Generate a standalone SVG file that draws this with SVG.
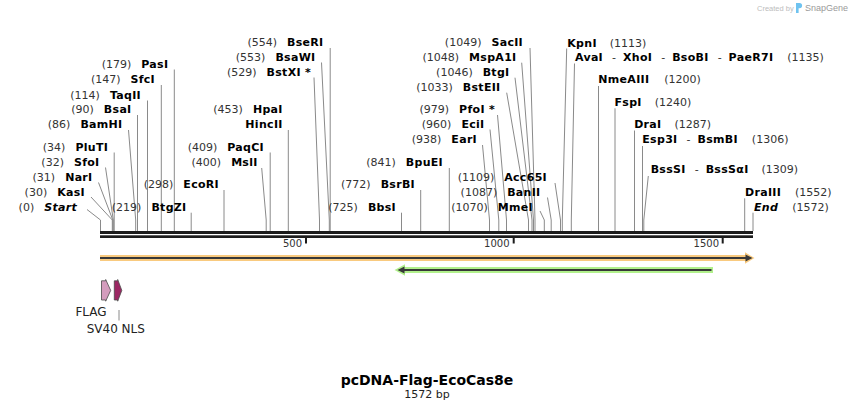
<svg xmlns="http://www.w3.org/2000/svg" width="854" height="410" viewBox="0 0 854 410">
<style>
.n{font-family:"DejaVu Sans",Verdana,sans-serif;font-size:11px;fill:#333}
.b{font-weight:bold;fill:#000;letter-spacing:.3px}
.bi{font-weight:bold;font-style:italic;fill:#000;letter-spacing:.3px}
.e{text-anchor:end}
.site{stroke:#8a8a8a;stroke-width:1;fill:none}
.tk{font-family:"DejaVu Sans",Verdana,sans-serif;font-size:10px;fill:#333;text-anchor:end}
.fl{font-family:"DejaVu Sans",Verdana,sans-serif;font-size:12px;fill:#222;text-anchor:middle}
.dark{fill:#383838}
</style>
<rect width="854" height="410" fill="#fff"/>

<g id="logo">
<text x="757" y="11" font-family="'Liberation Sans',Arial,sans-serif" font-size="7.5" fill="#bdbdbd">Created by</text>
<path d="M796,3 H799.5 A2.6,2.6 0 0 1 799.5,8.2 H798.6 V13 H796 Z" fill="#6fc3f0"/>
<text x="805" y="11" font-family="'Liberation Sans',Arial,sans-serif" font-size="9" fill="#9a9a9a">SnapGene</text>
</g>

<g id="connectors">
<polyline class="site" points="87,209.5 100.5,220 100.5,231"/>
<polyline class="site" points="91,197 112.3,220 112.3,231"/>
<polyline class="site" points="98.5,182.5 112.8,220 112.8,231"/>
<polyline class="site" points="105.5,167.5 113.3,220 113.3,231"/>
<line class="site" x1="114.2" y1="152.5" x2="114.2" y2="231"/>
<polyline class="site" points="128.5,130 135.7,220 135.7,231"/>
<line class="site" x1="137.5" y1="115" x2="137.5" y2="231"/>
<line class="site" x1="147.5" y1="100.5" x2="147.5" y2="231"/>
<line class="site" x1="161.3" y1="85" x2="161.3" y2="231"/>
<line class="site" x1="174.3" y1="69.5" x2="174.3" y2="231"/>
<line class="site" x1="191.2" y1="212.7" x2="191.2" y2="231"/>
<line class="site" x1="224" y1="190" x2="224" y2="231"/>
<polyline class="site" points="261.7,168 266.2,220 266.2,231"/>
<line class="site" x1="270.2" y1="152.5" x2="270.2" y2="231"/>
<line class="site" x1="288.3" y1="130" x2="288.3" y2="231"/>
<polyline class="site" points="314,77.5 319.5,220 319.5,231"/>
<polyline class="site" points="321.5,62.5 329.3,220 329.3,231"/>
<line class="site" x1="330.2" y1="48" x2="330.2" y2="231"/>
<line class="site" x1="401.5" y1="212.7" x2="401.5" y2="231"/>
<line class="site" x1="420.7" y1="190" x2="420.7" y2="231"/>
<line class="site" x1="449.3" y1="168" x2="449.3" y2="231"/>
<polyline class="site" points="482.5,145 489.5,220 489.5,231"/>
<polyline class="site" points="490,129.5 498.8,220 498.8,231"/>
<polyline class="site" points="497.5,115 506.5,220 506.5,231"/>
<polyline class="site" points="506.7,92.7 528.5,220 528.5,231"/>
<polyline class="site" points="515,77.7 532,220 532,231"/>
<polyline class="site" points="521.7,62.7 533.5,220 533.5,231"/>
<polyline class="site" points="530,48 535,220 535,231"/>
<polyline class="site" points="540,211 544.3,220 544.3,231"/>
<polyline class="site" points="547.5,197.5 551.2,220 551.2,231"/>
<polyline class="site" points="555,183 560.5,220 560.5,231"/>
<polyline class="site" points="566.7,48.5 562.3,220 562.3,231"/>
<polyline class="site" points="574.5,63.5 571.3,220 571.3,231"/>
<line class="site" x1="598.5" y1="86" x2="598.5" y2="231"/>
<line class="site" x1="615" y1="108.3" x2="615" y2="231"/>
<line class="site" x1="634.5" y1="130.5" x2="634.5" y2="231"/>
<line class="site" x1="642.5" y1="146" x2="642.5" y2="231"/>
<polyline class="site" points="648.3,176 643.8,220 643.8,231"/>
<line class="site" x1="744.7" y1="198.3" x2="744.7" y2="231"/>
<line class="site" x1="753" y1="212.7" x2="753" y2="231"/>
<line class="site" x1="119" y1="310" x2="119" y2="320.5"/>
</g>

<g id="backbone">
<rect x="100" y="231" width="653" height="3" fill="#1c1c1c"/>
<rect x="100" y="235.3" width="653" height="2.7" fill="#1c1c1c"/>
<rect x="305" y="238" width="2" height="5.5" fill="#1c1c1c"/>
<rect x="512.7" y="238" width="2" height="5.5" fill="#1c1c1c"/>
<rect x="721.7" y="238" width="2" height="5.5" fill="#1c1c1c"/>
<text class="tk" x="302" y="247">500</text>
<text class="tk" x="509.5" y="247">1000</text>
<text class="tk" x="719" y="247">1500</text>
</g>

<g id="site-start"><text class="n e" x="77" y="211">(0)<tspan class="bi" dx="10">Start</tspan></text></g>
<g id="site-KasI"><text class="n e" x="85" y="196">(30)<tspan class="b" dx="10">KasI</tspan></text></g>
<g id="site-NarI"><text class="n e" x="92.5" y="181">(31)<tspan class="b" dx="10">NarI</tspan></text></g>
<g id="site-SfoI"><text class="n e" x="99.5" y="166">(32)<tspan class="b" dx="10">SfoI</tspan></text></g>
<g id="site-PluTI"><text class="n e" x="108.2" y="150.7">(34)<tspan class="b" dx="10">PluTI</tspan></text></g>
<g id="site-BamHI"><text class="n e" x="122.5" y="128.3">(86)<tspan class="b" dx="10">BamHI</tspan></text></g>
<g id="site-BsaI"><text class="n e" x="131.5" y="113.3">(90)<tspan class="b" dx="10">BsaI</tspan></text></g>
<g id="site-TaqII"><text class="n e" x="141" y="99">(114)<tspan class="b" dx="10">TaqII</tspan></text></g>
<g id="site-SfcI"><text class="n e" x="155" y="83.3">(147)<tspan class="b" dx="10">SfcI</tspan></text></g>
<g id="site-PasI"><text class="n e" x="168.3" y="67.7">(179)<tspan class="b" dx="10">PasI</tspan></text></g>
<g id="site-BtgZI"><text class="n e" x="186.5" y="211">(219)<tspan class="b" dx="10">BtgZI</tspan></text></g>
<g id="site-EcoRI"><text class="n e" x="219" y="188.3">(298)<tspan class="b" dx="10">EcoRI</tspan></text></g>
<g id="site-MslI"><text class="n e" x="257.7" y="166">(400)<tspan class="b" dx="10">MslI</tspan></text></g>
<g id="site-PaqCI"><text class="n e" x="264" y="150.7">(409)<tspan class="b" dx="10">PaqCI</tspan></text></g>
<g id="site-HpaI"><text class="n e" x="282.7" y="113.3">(453)<tspan class="b" dx="10">HpaI</tspan></text>
<text class="n e b" x="282.7" y="128.3">HincII</text></g>
<g id="site-BstXI"><text class="n e" x="311" y="76">(529)<tspan class="b" dx="10">BstXI *</tspan></text></g>
<g id="site-BsaWI"><text class="n e" x="315.5" y="61">(553)<tspan class="b" dx="10">BsaWI</tspan></text></g>
<g id="site-BseRI"><text class="n e" x="323.5" y="45.7">(554)<tspan class="b" dx="10">BseRI</tspan></text></g>
<g id="site-BbsI"><text class="n e" x="396" y="211">(725)<tspan class="b" dx="10">BbsI</tspan></text></g>
<g id="site-BsrBI"><text class="n e" x="415" y="188.3">(772)<tspan class="b" dx="10">BsrBI</tspan></text></g>
<g id="site-BpuEI"><text class="n e" x="443" y="166">(841)<tspan class="b" dx="10">BpuEI</tspan></text></g>
<g id="site-EarI"><text class="n e" x="477" y="143.3">(938)<tspan class="b" dx="10">EarI</tspan></text></g>
<g id="site-EciI"><text class="n e" x="484.5" y="128.3">(960)<tspan class="b" dx="10">EciI</tspan></text></g>
<g id="site-PfoI"><text class="n e" x="495" y="113.3">(979)<tspan class="b" dx="10">PfoI *</tspan></text></g>
<g id="site-BstEII"><text class="n e" x="500.5" y="91">(1033)<tspan class="b" dx="10">BstEII</tspan></text></g>
<g id="site-BtgI"><text class="n e" x="509.5" y="76">(1046)<tspan class="b" dx="10">BtgI</tspan></text></g>
<g id="site-MspA1I"><text class="n e" x="516.5" y="61">(1048)<tspan class="b" dx="10">MspA1I</tspan></text></g>
<g id="site-SacII"><text class="n e" x="523" y="46">(1049)<tspan class="b" dx="10">SacII</tspan></text></g>
<g id="site-MmeI"><text class="n e" x="533" y="211">(1070)<tspan class="b" dx="10">MmeI</tspan></text></g>
<g id="site-BanII"><text class="n e" x="540.5" y="196">(1087)<tspan class="b" dx="10">BanII</tspan></text></g>
<g id="site-Acc65I"><text class="n e" x="547" y="181">(1109)<tspan class="b" dx="10">Acc65I</tspan></text></g>

<g id="site-KpnI"><text class="n" x="567.3" y="46.7"><tspan class="b">KpnI</tspan><tspan dx="13">(1113)</tspan></text></g>
<g id="site-AvaI"><text class="n" x="575" y="61"><tspan class="b">AvaI</tspan><tspan dx="9">-</tspan><tspan class="b" dx="7">XhoI</tspan><tspan dx="9">-</tspan><tspan class="b" dx="7">BsoBI</tspan><tspan dx="9">-</tspan><tspan class="b" dx="7">PaeR7I</tspan><tspan dx="14">(1135)</tspan></text></g>
<g id="site-NmeAIII"><text class="n" x="598.3" y="83.3"><tspan class="b">NmeAIII</tspan><tspan dx="15">(1200)</tspan></text></g>
<g id="site-FspI"><text class="n" x="614.5" y="106"><tspan class="b">FspI</tspan><tspan dx="13">(1240)</tspan></text></g>
<g id="site-DraI"><text class="n" x="634.2" y="128.3"><tspan class="b">DraI</tspan><tspan dx="13">(1287)</tspan></text></g>
<g id="site-Esp3I"><text class="n" x="642.3" y="143.3"><tspan class="b">Esp3I</tspan><tspan dx="9">-</tspan><tspan class="b" dx="7">BsmBI</tspan><tspan dx="14">(1306)</tspan></text></g>
<g id="site-BssSI"><text class="n" x="650.7" y="172.7"><tspan class="b">BssSI</tspan><tspan dx="9">-</tspan><tspan class="b" dx="7">BssSαI</tspan><tspan dx="13">(1309)</tspan></text></g>
<g id="site-DraIII"><text class="n" x="745" y="196"><tspan class="b">DraIII</tspan><tspan dx="14">(1552)</tspan></text></g>
<g id="site-end"><text class="n" x="754" y="211"><tspan class="bi">End</tspan><tspan dx="14">(1572)</tspan></text></g>

<g id="feature-orange">
<path d="M100,255 H745 V252.3 L754.5,258 L745,263.7 V261 H100 Z" fill="#f9ca7f"/>
<line x1="100" y1="258" x2="747" y2="258" stroke="#383838" stroke-width="2"/>
<path class="dark" d="M745.5,254.5 L752.5,258 L745.5,261.5 Z"/>
</g>
<g id="feature-green">
<path d="M713,267 H405 V264.3 L394.5,270 L405,275.7 V273 H713 Z" fill="#b1f08c"/>
<line x1="711.5" y1="270" x2="402" y2="270" stroke="#383838" stroke-width="2"/>
<path class="dark" d="M404.5,266.5 L397.5,270 L404.5,273.5 Z"/>
</g>

<g id="feature-FLAG">
<path d="M101.5,280.8 H105.7 V279.5 L110.7,290.4 L105.7,301.2 V300 H101.5 Z" fill="#d49cbd" stroke="#4a4a4a" stroke-width="0.8"/>
<text class="fl" x="91" y="316">FLAG</text>
</g>
<g id="feature-SV40NLS">
<path d="M114.3,280.8 H117.7 V279.5 L121.8,290.4 L117.7,301.2 V300 H114.3 Z" fill="#9c2763" stroke="#4a4a4a" stroke-width="0.8"/>
<text class="fl" x="115.8" y="332.7">SV40 NLS</text>
</g>

<g id="title">
<text x="427" y="385" text-anchor="middle" font-family="'DejaVu Sans',Verdana,sans-serif" font-size="14" font-weight="bold" fill="#000">pcDNA-Flag-EcoCas8e</text>
<text x="427" y="397.5" text-anchor="middle" font-family="'DejaVu Sans',Verdana,sans-serif" font-size="11" fill="#222">1572 bp</text>
</g>
</svg>
